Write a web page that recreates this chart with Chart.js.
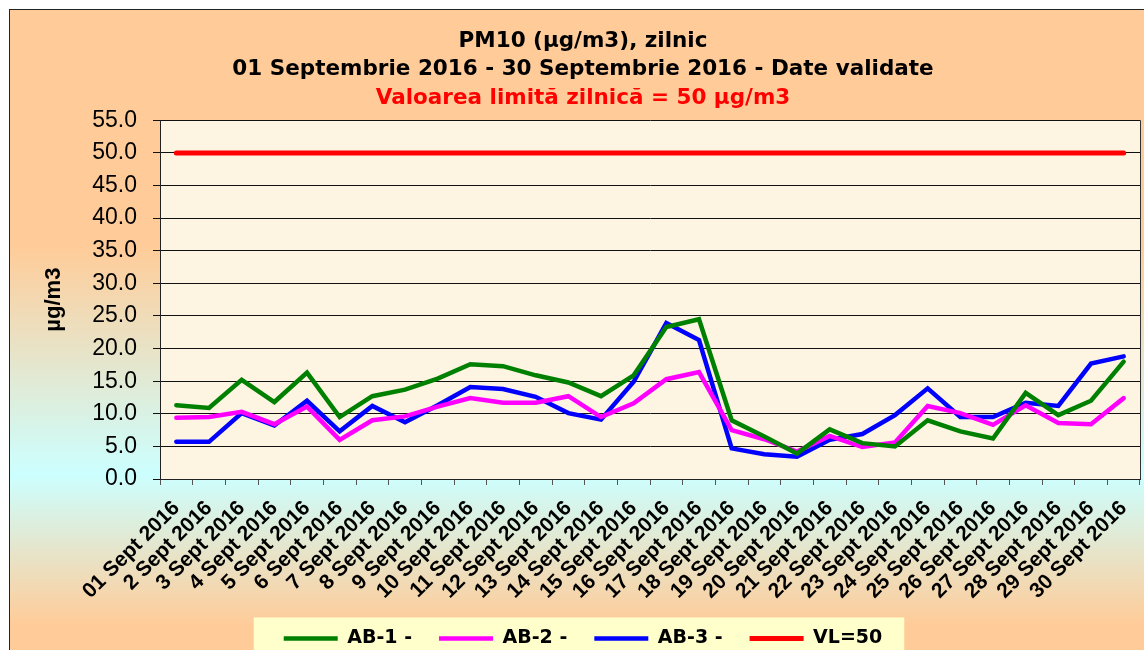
<!DOCTYPE html>
<html>
<head>
<meta charset="utf-8">
<title>PM10 zilnic</title>
<script src="https://cdn.jsdelivr.net/npm/chart.js@4.4.1/dist/chart.umd.min.js"></script>
<style>
  html, body { margin: 0; padding: 0; background: #fff; }
  #wrap { width: 1144px; height: 650px; }
</style>
</head>
<body>
<div id="wrap"><canvas id="pmChart" width="1144" height="650"></canvas></div>
<script>
// Daily PM10 values
const dayLabels = [
  "01 Sept 2016", "2 Sept 2016", "3 Sept 2016", "4 Sept 2016", "5 Sept 2016",
  "6 Sept 2016", "7 Sept 2016", "8 Sept 2016", "9 Sept 2016", "10 Sept 2016",
  "11 Sept 2016", "12 Sept 2016", "13 Sept 2016", "14 Sept 2016", "15 Sept 2016",
  "16 Sept 2016", "17 Sept 2016", "18 Sept 2016", "19 Sept 2016", "20 Sept 2016",
  "21 Sept 2016", "22 Sept 2016", "23 Sept 2016", "24 Sept 2016", "25 Sept 2016",
  "26 Sept 2016", "27 Sept 2016", "28 Sept 2016", "29 Sept 2016", "30 Sept 2016"
]
const ab1 = [11.3, 10.9, 15.2, 11.8, 16.3, 9.5, 12.7, 13.7, 15.4, 17.6,
             17.3, 15.9, 14.8, 12.7, 15.9, 23.3, 24.5, 9.0, 6.5, 3.9,
             7.6, 5.5, 5.0, 9.0, 7.3, 6.2, 13.2, 9.8, 12.0, 18.0]
const ab2 = [9.4, 9.5, 10.3, 8.4, 11.1, 6.0, 9.0, 9.6, 11.1, 12.4,
             11.7, 11.7, 12.7, 9.5, 11.6, 15.3, 16.4, 7.5, 6.1, 4.2,
             6.6, 4.9, 5.6, 11.2, 10.1, 8.3, 11.3, 8.6, 8.4, 12.4]
const ab3 = [5.7, 5.7, 10.1, 8.2, 12.0, 7.3, 11.2, 8.7, 11.3, 14.1,
             13.8, 12.6, 10.1, 9.1, 14.9, 23.9, 21.3, 4.7, 3.8, 3.4,
             6.0, 6.9, 9.8, 13.9, 9.5, 9.5, 11.7, 11.2, 17.7, 18.8]
const limitValues = dayLabels.map(() => 50)
const seriesNames = ["AB-1 -", "AB-2 -", "AB-3 -", "VL=50"]

const titleLines = ["PM10 (µg/m3), zilnic", "01 Septembrie 2016 - 30 Septembrie 2016 - Date validate"]
const subtitleText = "Valoarea limită zilnică = 50 µg/m3"

const headFont = "'DejaVu Sans', sans-serif"
const axisFont = "'Liberation Sans', Arial, sans-serif"

// Background, plot fill and legend panel
const backdrop = {
  id: "backdrop",
  beforeDraw(chart) {
    const { ctx, width, height, chartArea: a } = chart
    ctx.save()
    ctx.fillStyle = "#ffffff"
    ctx.fillRect(0, 0, width, height)
    const g = ctx.createLinearGradient(0, 0, 0, height)
    g.addColorStop(0, "#FFCC99")
    g.addColorStop(0.38, "#FFCC99")
    g.addColorStop(0.73, "#CCFFFF")
    g.addColorStop(0.96, "#FFCC99")
    g.addColorStop(1, "#FFCC99")
    ctx.fillStyle = g
    ctx.fillRect(10, 10, width, height)
    ctx.strokeStyle = "#222"
    ctx.lineWidth = 1
    ctx.strokeRect(9.5, 9.5, width + 20, height + 20)

    ctx.fillStyle = "#FDF4E2"
    ctx.fillRect(a.left, a.top, a.right - a.left, a.bottom - a.top)

    const boxes = chart.legend && chart.legend.legendHitBoxes
    if (boxes && boxes.length) {
      const first = boxes[0]
      const last = boxes[boxes.length - 1]
      const top = first.top + first.height / 2 - 21
      ctx.fillStyle = "#FFFFCC"
      ctx.fillRect(first.left - 30, top, last.left + last.width + 22 - (first.left - 30), height - top + 5)
    }
    ctx.restore()
  },
  beforeDatasetsDraw(chart) {
    const { ctx, chartArea: a } = chart
    ctx.save()
    ctx.strokeStyle = "#333"
    ctx.lineWidth = 1
    ctx.beginPath()
    ctx.moveTo(Math.round(a.right) + 0.5, a.top)
    ctx.lineTo(Math.round(a.right) + 0.5, a.bottom)
    ctx.stroke()
    ctx.restore()
  }
}

function lineSet(label, data, color, width) {
  return {
    label: label,
    data: data,
    borderColor: color,
    backgroundColor: color,
    borderWidth: width,
    borderCapStyle: "round",
    pointRadius: 0,
    pointHoverRadius: 0,
    tension: 0,
    fill: false
  }
}

const ctx = document.getElementById("pmChart").getContext("2d")
new Chart(ctx, {
  type: "line",
  data: {
    labels: dayLabels,
    datasets: [
      lineSet(seriesNames[0], ab1, "#008000", 4.5),
      lineSet(seriesNames[1], ab2, "#FF00FF", 4.5),
      lineSet(seriesNames[2], ab3, "#0000FF", 4.5),
      lineSet(seriesNames[3], limitValues, "#FF0000", 5)
    ]
  },
  options: {
    responsive: false,
    animation: false,
    devicePixelRatio: 1,
    layout: { padding: { left: 26, right: 4, top: 0, bottom: -8 } },
    plugins: {
      title: {
        display: true,
        text: titleLines,
        color: "#000",
        font: { family: headFont, size: 21.5, weight: "bold", lineHeight: 1.33 },
        padding: { top: 27, bottom: 0 }
      },
      subtitle: {
        display: true,
        text: subtitleText,
        color: "#FF0000",
        font: { family: headFont, size: 21.5, weight: "bold", lineHeight: 1.33 },
        padding: { top: 0, bottom: 7.5 }
      },
      legend: {
        position: "bottom",
        labels: {
          usePointStyle: true,
          pointStyle: "line",
          pointStyleWidth: 54,
          padding: 27,
          color: "#000",
          font: { family: headFont, size: 19, weight: "bold" }
        }
      },
      tooltip: { enabled: false }
    },
    scales: {
      x: {
        offset: true,
        grid: { display: true, drawOnChartArea: false, offset: true, tickLength: 6, color: "#555" },
        border: { display: true, color: "#222", width: 1 },
        ticks: {
          autoSkip: false,
          minRotation: 45,
          maxRotation: 45,
          padding: 11,
          color: "#000",
          font: { family: axisFont, size: 21, weight: "bold" }
        },
        afterFit(scale) {
          scale.height = 123
          scale.paddingLeft = 0
          scale.paddingRight = 0
        }
      },
      y: {
        min: 0,
        max: 55,
        grid: { color: "#111", lineWidth: 1, tickLength: 7 },
        border: { display: true, color: "#222", width: 1 },
        ticks: {
          stepSize: 5,
          padding: 16,
          color: "#000",
          font: { family: axisFont, size: 23 },
          callback: v => v.toFixed(1)
        },
        title: {
          display: true,
          text: "µg/m3",
          color: "#000",
          font: { family: axisFont, size: 22, weight: "bold" },
          padding: { top: 15, bottom: 0 }
        },
        afterFit(scale) {
          scale.width = 134
        }
      }
    }
  },
  plugins: [backdrop]
})
</script>
</body>
</html>
